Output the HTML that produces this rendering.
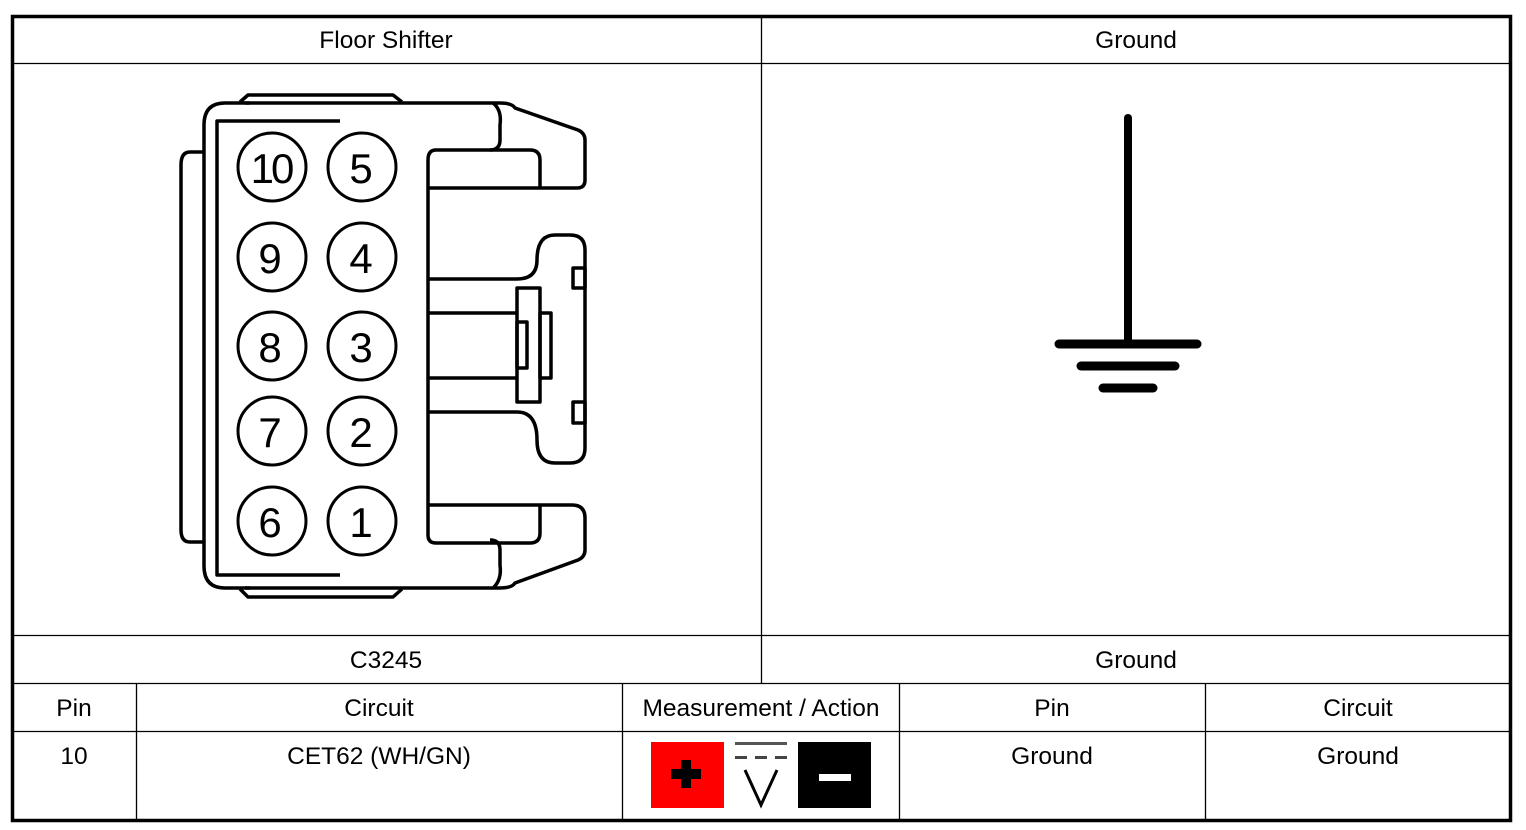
<!DOCTYPE html>
<html><head><meta charset="utf-8"><style>
html,body{margin:0;padding:0;background:#fff;width:1526px;height:830px;overflow:hidden}
svg{display:block}
text{font-family:"Liberation Sans",sans-serif;font-size:24.5px;fill:#000}
</style></head><body>
<svg width="1526" height="830" viewBox="0 0 1526 830">
<rect x="0" y="0" width="1526" height="830" fill="#fff"/>
<g stroke="#000" stroke-width="1.3" fill="none">
<line x1="11" y1="63.5" x2="1511" y2="63.5"/>
<line x1="11" y1="635.5" x2="1511" y2="635.5"/>
<line x1="11" y1="683.5" x2="1511" y2="683.5"/>
<line x1="11" y1="731.5" x2="1511" y2="731.5"/>
<line x1="761.5" y1="15" x2="761.5" y2="683"/>
<line x1="136.5" y1="683" x2="136.5" y2="822"/>
<line x1="622.5" y1="683" x2="622.5" y2="822"/>
<line x1="899.5" y1="683" x2="899.5" y2="822"/>
<line x1="1205.5" y1="683" x2="1205.5" y2="822"/>
</g>
<rect x="12.5" y="16.5" width="1498" height="804" fill="none" stroke="#000" stroke-width="3.5"/>
<g text-anchor="middle">
<text x="386" y="48">Floor Shifter</text>
<text x="1136" y="48">Ground</text>
<text x="386" y="668">C3245</text>
<text x="1136" y="668">Ground</text>
<text x="74" y="716">Pin</text>
<text x="379" y="716">Circuit</text>
<text x="761" y="716">Measurement / Action</text>
<text x="1052" y="716">Pin</text>
<text x="1358" y="716">Circuit</text>
<text x="74" y="764">10</text>
<text x="379" y="764">CET62 (WH/GN)</text>
<text x="1052" y="764">Ground</text>
<text x="1358" y="764">Ground</text>
</g>
<rect x="651" y="742" width="73" height="66" fill="#f00"/>
<rect x="681" y="760" width="10" height="28" fill="#000"/>
<rect x="671" y="769" width="30" height="10" fill="#000"/>
<rect x="735" y="742" width="52" height="3" fill="#555"/>
<g fill="#444"><rect x="735" y="756" width="12" height="3"/><rect x="755" y="756" width="12" height="3"/><rect x="775" y="756" width="12" height="3"/></g>
<path d="M745 770 L761 805 L777 770" stroke="#000" stroke-width="3" fill="none"/>
<rect x="798" y="742" width="73" height="66" fill="#000"/>
<rect x="819" y="774" width="32" height="7" fill="#fff"/>
<g stroke="#000" stroke-linecap="round">
<line x1="1128" y1="118" x2="1128" y2="342" stroke-width="8"/>
<line x1="1059" y1="344" x2="1197" y2="344" stroke-width="9"/>
<line x1="1081" y1="366" x2="1175" y2="366" stroke-width="9"/>
<line x1="1103" y1="388" x2="1153" y2="388" stroke-width="9"/>
</g>
<g stroke="#000" stroke-width="3.5" fill="none" stroke-linejoin="round">
<path d="M245 103 L500 103 Q512 103 515 108 L578 130 Q585 133 585 140 L585 180 Q585 188 577 188 L540 188"/>
<path d="M245 588 L500 588 Q512 588 515 583 L578 560 Q585 557 585 550 L585 518 Q585 505 572 505 L540 505"/>
<path d="M225 103 Q204 103 204 125 L204 566 Q204 588 225 588 L250 588"/>
<path d="M225 103 L250 103"/>
<path d="M240 102 L248 95 L393 95 L402 102"/>
<path d="M240 589 L248 597 L393 597 L402 589"/>
<path d="M203 152 L190 152 Q181 152 181 165 L181 530 Q181 542 190 542 L203 542"/>
<path d="M340 121 L217 121 L217 575 L340 575"/>
<path d="M493 103 Q502 110 500 125 L500 140 Q500 150 490 150"/>
<path d="M493 588 Q502 580 500 565 L500 550 Q500 540 490 540"/>
<path d="M540 188 L540 160 Q540 150 530 150 L436 150 Q428 150 428 160 L428 535 Q428 543 436 543 L530 543 Q540 543 540 533 L540 505"/>
<path d="M428 188 L540 188"/>
<path d="M428 505 L540 505"/>
<path d="M428 279 L517 279 M428 313 L517 313 M428 378 L517 378 M428 412 L517 412"/>
<rect x="517" y="288" width="23" height="114"/>
<rect x="517" y="322" width="10" height="46"/>
<rect x="540" y="313" width="11" height="65"/>
<path d="M517 279 Q537 279 537 260 Q537 235 555 235 L570 235 Q585 235 585 250 L585 448 Q585 463 570 463 L555 463 Q537 463 537 440 Q537 412 517 412"/>
<rect x="573" y="268" width="12" height="20"/>
<rect x="573" y="402" width="12" height="21"/>
<g stroke-width="3">
<circle cx="272" cy="167" r="34"/><circle cx="362" cy="167" r="34"/>
<circle cx="272" cy="257" r="34"/><circle cx="362" cy="257" r="34"/>
<circle cx="272" cy="346" r="34"/><circle cx="362" cy="346" r="34"/>
<circle cx="272" cy="431" r="34"/><circle cx="362" cy="431" r="34"/>
<circle cx="272" cy="521" r="34"/><circle cx="362" cy="521" r="34"/>
</g>
</g>
<g text-anchor="middle">
<text x="271" y="183" style="font-size:42px;letter-spacing:-3px">10</text>
<text x="361" y="183" style="font-size:42px">5</text>
<text x="270" y="273" style="font-size:42px">9</text>
<text x="361" y="273" style="font-size:42px">4</text>
<text x="270" y="362" style="font-size:42px">8</text>
<text x="361" y="362" style="font-size:42px">3</text>
<text x="270" y="447" style="font-size:42px">7</text>
<text x="361" y="447" style="font-size:42px">2</text>
<text x="270" y="537" style="font-size:42px">6</text>
<text x="361" y="537" style="font-size:42px">1</text>
</g>
</svg>
</body></html>
